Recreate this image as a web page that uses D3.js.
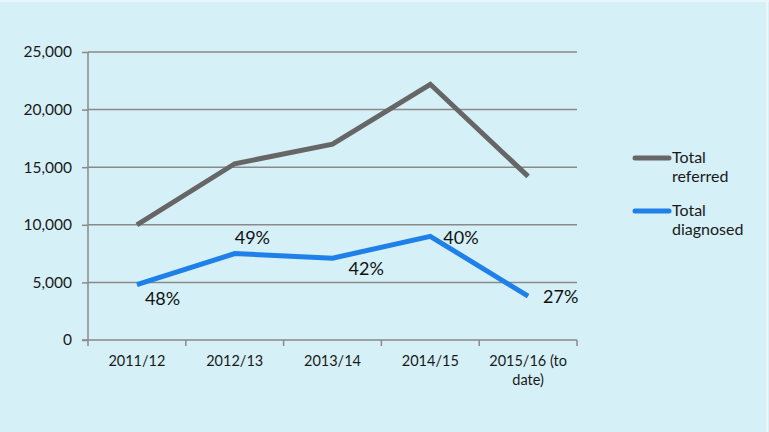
<!DOCTYPE html>
<html><head><meta charset="utf-8">
<script src="https://cdn.jsdelivr.net/npm/d3@7"></script>
<style>
html,body{margin:0;padding:0;background:#d5f0f7;}
svg{display:block;font-family:Lato,"Open Sans",sans-serif;}
</style></head>
<body>
<svg id="chart" width="769" height="432"></svg>
<script>
const categories = ["2011/12", "2012/13", "2013/14", "2014/15", "2015/16 (to date)"];
const referred = [10000, 15300, 17000, 22200, 14200];
const diagnosed = [4800, 7500, 7100, 9000, 3800];
const diagnosedLabels = ["48%", "49%", "42%", "40%", "27%"];
const yTicks = [0, 5000, 10000, 15000, 20000, 25000];
const seriesNames = ["Total referred", "Total diagnosed"];

(function () {
// label placement (style only)
const labelPlace = [[8, 16], [0, -14], [16, 12], [13, 3], [15, 2]];

const svg = d3.select("#chart");
const W = 769, H = 432;
svg.append("rect").attr("width", W).attr("height", H).attr("fill", "#d5f0f7");
svg.append("line").attr("x1", 0).attr("x2", W).attr("y1", 1).attr("y2", 1).attr("stroke", "#e8f7fb").attr("stroke-width", 2);
svg.append("line").attr("x1", 767).attr("x2", 767).attr("y1", 0).attr("y2", H).attr("stroke", "#e8f7fb").attr("stroke-width", 2);

const pl = 88, pr = 577, pt = 52, pb = 340;
const x = d3.scaleBand().domain(categories).range([pl, pr]).padding(0);
const y = d3.scaleLinear().domain([0, 25000]).range([pb, pt]);
const cx = d => x(d) + x.bandwidth() / 2;

// gridlines
svg.append("g").selectAll("line").data(yTicks.filter(t => t > 0)).join("line")
  .attr("x1", pl).attr("x2", pr)
  .attr("y1", d => y(d)).attr("y2", d => y(d))
  .attr("stroke", "#8a8a8a").attr("stroke-width", 1.5);

// y axis
const yAxis = d3.axisLeft(y).tickValues(yTicks).tickSize(6).tickFormat(d3.format(","));
const gy = svg.append("g").attr("transform", `translate(${pl},0)`).call(yAxis);
gy.select(".domain").attr("stroke", "#8a8a8a").attr("stroke-width", 1.5).attr("d", `M0,${pt}V${pb}`);
gy.selectAll(".tick line").attr("stroke", "#8a8a8a").attr("stroke-width", 1.5);
gy.selectAll(".tick text").attr("font-size", 15.5).attr("fill", "#1a1a1a").attr("x", -16).attr("font-family", "Lato, sans-serif");

// x axis
const xAxis = d3.axisBottom(x).tickSize(0).tickFormat("");
const gx = svg.append("g").attr("transform", `translate(0,${pb})`).call(xAxis);
gx.select(".domain").attr("stroke", "#8a8a8a").attr("stroke-width", 1.5).attr("d", `M${pl - 6},0H${pr}`);
const boundaries = categories.map(c => x(c)).concat([pr]);
svg.append("g").selectAll("line").data(boundaries).join("line")
  .attr("x1", d => d).attr("x2", d => d)
  .attr("y1", pb).attr("y2", pb + 6)
  .attr("stroke", "#8a8a8a").attr("stroke-width", 1.5);

// x labels
const xl = svg.append("g").selectAll("text").data(categories).join("text")
  .attr("text-anchor", "middle").attr("font-size", 14.5).attr("fill", "#1a1a1a")
  .attr("x", d => cx(d)).attr("y", 366);
xl.each(function(d) {
  const t = d3.select(this);
  if (d === "2015/16 (to date)") {
    t.append("tspan").attr("x", cx(d)).attr("dy", 0).text("2015/16 (to");
    t.append("tspan").attr("x", cx(d)).attr("dy", 19).text("date)");
  } else t.text(d);
});

// lines
const line = d3.line().x((d, i) => cx(categories[i])).y(d => y(d));
svg.append("path").datum(referred).attr("d", line).attr("fill", "none")
  .attr("stroke", "#666666").attr("stroke-width", 5).attr("stroke-linejoin", "miter");
svg.append("path").datum(diagnosed).attr("d", line).attr("fill", "none")
  .attr("stroke", "#1e80e8").attr("stroke-width", 5).attr("stroke-linejoin", "miter");

// data labels
svg.append("g").selectAll("text").data(diagnosedLabels).join("text")
  .attr("x", (d, i) => cx(categories[i]) + labelPlace[i][0])
  .attr("y", (d, i) => y(diagnosed[i]) + labelPlace[i][1])
  .attr("dominant-baseline", "middle")
  .attr("font-size", 18).attr("fill", "#111")
  .text(d => d);

// legend
const legColors = ["#666666", "#1e80e8"];
const leg = svg.append("g");
seriesNames.forEach((name, i) => {
  const ly = 158 + i * 53;
  leg.append("line").attr("x1", 635).attr("x2", 669).attr("y1", ly).attr("y2", ly)
    .attr("stroke", legColors[i]).attr("stroke-width", 5).attr("stroke-linecap", "round");
  const words = name.split(" ");
  const t = leg.append("text").attr("font-size", 16).attr("fill", "#1a1a1a").attr("dominant-baseline", "middle");
  t.append("tspan").attr("x", 672).attr("y", ly + 1).text(words[0]);
  t.append("tspan").attr("x", 672).attr("y", ly + 20).text(words[1]);
});
})();
</script>
</body></html>
